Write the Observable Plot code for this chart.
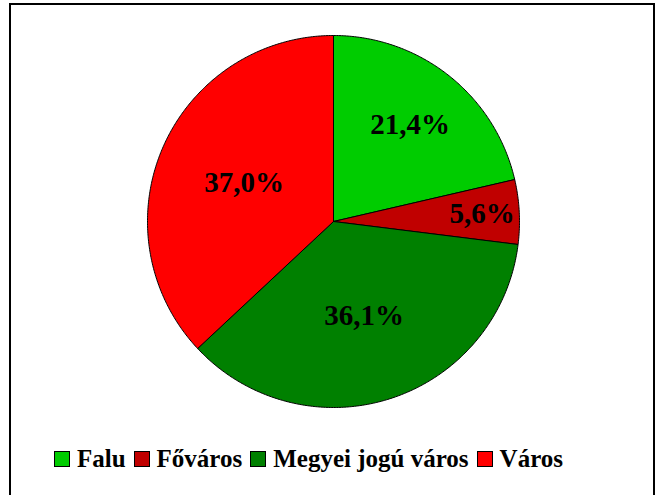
<!DOCTYPE html>
<html><head><meta charset="utf-8">
<script src="https://cdn.jsdelivr.net/npm/d3@7"></script>
<script src="https://cdn.jsdelivr.net/npm/@observablehq/plot@0.6"></script>
<style>
body{margin:0;background:#fff;width:656px;height:495px;overflow:hidden;position:relative;font-family:"Liberation Serif","Times New Roman",serif;}
#frame{position:absolute;left:9px;top:3px;width:646px;height:520px;border:2px solid #000;box-sizing:border-box;pointer-events:none;}
#chart{position:absolute;left:0;top:0;}
#legend{position:absolute;left:0;top:446px;width:617px;display:flex;justify-content:center;align-items:baseline;font-weight:bold;font-size:25px;line-height:25px;white-space:nowrap;}
.item{display:inline-flex;align-items:baseline;margin:0 4px;}
.sw{display:inline-block;width:14px;height:14px;border:1px solid #000;margin-right:7px;}
</style></head>
<body>
<div id="chart"></div>
<div id="legend"></div>
<div id="frame"></div>
<script>
const categories = ["Falu", "Főváros", "Megyei jogú város", "Város"];
const shares = [21.4, 5.6, 36.1, 37.0];
const colors = ["#00CC00", "#C00000", "#008000", "#FF0000"];

const arcs = d3.pie().sort(null).startAngle(0).endAngle(2 * Math.PI)(shares);

// slice outlines: center + sampled arc points
const pts = [];
arcs.forEach((a, i) => {
  const name = categories[i];
  pts.push({name, x: 0, y: 0});
  const n = Math.max(2, Math.ceil((a.endAngle - a.startAngle) / (Math.PI / 360)));
  for (let k = 0; k <= n; k++) {
    const t = a.startAngle + (a.endAngle - a.startAngle) * k / n;
    pts.push({name, x: Math.sin(t), y: Math.cos(t)});
  }
  pts.push({name, x: 0, y: 0});
});

// label distance from centre: smaller slices push labels outward
const labels = arcs.map((a, i) => {
  const m = (a.startAngle + a.endAngle) / 2;
  const r = 0.85 - 0.0088 * shares[i];
  return {x: r * Math.sin(m), y: r * Math.cos(m), text: shares[i].toFixed(1).replace(".", ",") + "%"};
});

const chart = Plot.plot({
  width: 656,
  height: 440,
  marginLeft: 147,
  marginRight: 137,
  marginTop: 35,
  marginBottom: 33,
  x: {domain: [-1, 1], axis: null},
  y: {domain: [-1, 1], axis: null},
  color: {domain: categories, range: colors},
  style: {background: "transparent", overflow: "visible"},
  marks: [
    Plot.line(pts, {x: "x", y: "y", z: "name", fill: "name", stroke: "#000", strokeWidth: 1, curve: "linear", strokeLinejoin: "round"}),
    Plot.text(labels, {x: "x", y: "y", text: "text", fontSize: 29, fontWeight: "bold", fontFamily: "Liberation Serif", fill: "#000"})
  ]
});
document.getElementById("chart").appendChild(chart);

const leg = document.getElementById("legend");
categories.forEach((c, i) => {
  const it = document.createElement("span");
  it.className = "item";
  const sw = document.createElement("span");
  sw.className = "sw";
  sw.style.background = colors[i];
  const tx = document.createElement("span");
  tx.textContent = c;
  it.appendChild(sw); it.appendChild(tx);
  leg.appendChild(it);
});
</script>
</body></html>
